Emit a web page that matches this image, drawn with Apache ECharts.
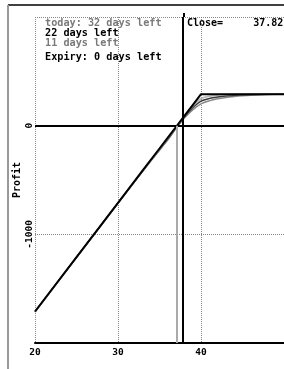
<!DOCTYPE html>
<html>
<head>
<meta charset="utf-8">
<script src="https://cdn.jsdelivr.net/npm/echarts@6/dist/echarts.min.js"></script>
<style>
  html, body { margin: 0; padding: 0; background: #fff; }
  #chart { width: 284px; height: 369px; }
</style>
</head>
<body>
<div id="chart"></div>
<script>
// underlying price (x) and profit for each time-to-expiry curve
const prices   = [20, 25, 30, 33, 35, 36, 37, 38, 39, 40, 41, 42, 43, 44, 45, 46, 48, 50]
const today32  = [-1714, -1214, -714, -418, -226, -130, -25, 70, 145, 200, 228, 247, 260, 269, 276, 281, 287, 290]
const days22   = [-1712, -1212, -712, -415, -220, -123, -20, 80, 165, 225, 250, 264, 273, 279, 284, 287, 290, 290]
const days11   = [-1711, -1211, -711, -412, -215, -117, -15, 88, 180, 250, 271, 281, 286, 289, 290, 290, 290, 290]
const expiry0  = [-1710, -1210, -710, -410, -210, -110, -10, 90, 190, 290, 290, 290, 290, 290, 290, 290, 290, 290]

const seriesNames = ['today: 32 days left', '22 days left', '11 days left', 'Expiry: 0 days left']
const closePrice = 37.82
const breakEven = 37.1

const xMin = 20, xMax = 50, xStep = 10
const yMin = -2000, yMax = 1000, yStep = 1000

const mono = 'DejaVu Sans Mono'

const chart = echarts.init(document.getElementById('chart'))

function pts(vals) {
  return prices.map((p, i) => [p, vals[i]])
}

const lineBase = {
  type: 'line',
  symbol: 'none',
  smooth: 0.3,
}

chart.setOption({
  animation: false,
  grid: { left: 35, top: 17, width: 251, height: 326 },
  legend: [
    {
      orient: 'vertical', left: 40, top: 18, padding: 0,
      itemWidth: 0, itemHeight: 10.3, itemGap: 0, icon: 'none', selectedMode: false,
      textStyle: { fontFamily: mono, fontSize: 10.2, fontWeight: 'bold', color: '#000' },
      data: [
        { name: seriesNames[0], textStyle: { color: '#7a7a7a' } },
        { name: seriesNames[1] },
        { name: seriesNames[2], textStyle: { color: '#7a7a7a' } },
      ],
    },
    {
      orient: 'vertical', left: 40, top: 52, padding: 0,
      itemWidth: 0, itemHeight: 10, icon: 'none', selectedMode: false,
      textStyle: { fontFamily: mono, fontSize: 10.2, fontWeight: 'bold', color: '#000' },
      data: [seriesNames[3]],
    },
  ],
  xAxis: {
    type: 'value',
    min: xMin, max: xMax, interval: xStep,
    axisLine: { show: true, onZero: false, lineStyle: { color: '#000', width: 2 } },
    axisTick: { show: false },
    axisLabel: {
      showMaxLabel: false, margin: 5,
      fontFamily: mono, fontSize: 9.5, fontWeight: 'bold', color: '#000',
    },
    splitLine: { show: true, lineStyle: { color: '#888', type: 'dotted', width: 1 } },
  },
  yAxis: {
    type: 'value',
    min: yMin, max: yMax, interval: yStep,
    name: 'Profit', nameLocation: 'middle', nameGap: 13, nameMoveOverlap: false,
    nameTextStyle: { fontFamily: mono, fontSize: 10, fontWeight: 'bold', color: '#000' },
    axisLine: { show: false },
    axisTick: { show: false },
    axisLabel: {
      rotate: 90, margin: 0, showMinLabel: false, showMaxLabel: false,
      formatter: (v) => String(v),
      fontFamily: mono, fontSize: 9.5, fontWeight: 'bold', color: '#000',
    },
    splitLine: { show: true, lineStyle: { color: '#888', type: 'dotted', width: 1 } },
  },
  series: [
    { ...lineBase, name: seriesNames[0], data: pts(today32), lineStyle: { color: '#8a8a8a', width: 1.5 }, itemStyle: { color: '#8a8a8a' } },
    { ...lineBase, name: seriesNames[1], data: pts(days22), lineStyle: { color: '#3a3a3a', width: 1.5 }, itemStyle: { color: '#3a3a3a' } },
    { ...lineBase, name: seriesNames[2], data: pts(days11), lineStyle: { color: '#b4b4b4', width: 1.5 }, itemStyle: { color: '#b4b4b4' } },
    {
      ...lineBase, smooth: false, name: seriesNames[3], data: pts(expiry0),
      lineStyle: { color: '#000', width: 2 }, itemStyle: { color: '#000' },
      markLine: {
        silent: true, symbol: 'none', label: { show: false },
        data: [
          { yAxis: 0, lineStyle: { color: '#000', width: 2, type: 'solid' } },
          [
            { coord: [breakEven, 0], lineStyle: { color: '#aaa', width: 2, type: 'solid' } },
            { coord: [breakEven, yMin] },
          ],
          { xAxis: closePrice, lineStyle: { color: '#000', width: 2, type: 'solid' } },
        ],
      },
    },
  ],
  graphic: [
    { type: 'line', shape: { x1: 8, y1: 5, x2: 284, y2: 5 }, style: { stroke: '#000', lineWidth: 1.5 } },
    { type: 'line', shape: { x1: 8, y1: 5, x2: 8, y2: 369 }, style: { stroke: '#999', lineWidth: 2 } },
    { type: 'line', shape: { x1: 184, y1: 13, x2: 184, y2: 17 }, style: { stroke: '#000', lineWidth: 2 } },
    {
      type: 'text', left: 187, top: 18,
      style: { text: 'Close=     ' + closePrice.toFixed(2), fontFamily: mono, fontSize: 10, fontWeight: 'bold', fill: '#000' },
    },
  ],
})
</script>
</body>
</html>
